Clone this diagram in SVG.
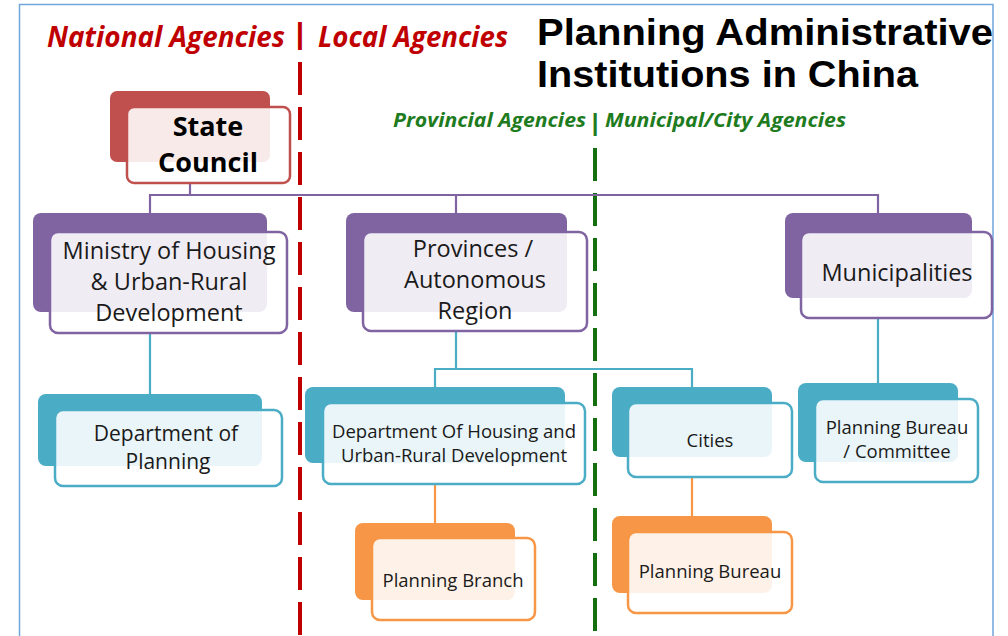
<svg xmlns="http://www.w3.org/2000/svg" width="1008" height="636" viewBox="0 0 1008 636">
  <style>
    .frame { fill: none; stroke: #6fa6dc; stroke-width: 1.5; }
    .title { font-family: "Liberation Sans", Arial, sans-serif; font-weight: 700; font-size: 36.5px; fill: #000; }
    .hdr-red { font-family: "Open Sans", "Noto Sans", sans-serif; font-weight: 700; font-style: italic; font-size: 29px; fill: #c00000; }
    .hdr-green { font-family: "Open Sans", "Noto Sans", sans-serif; font-weight: 700; font-style: italic; font-size: 20px; fill: #1e7b1e; }
    .bar { font-family: "Liberation Sans", Arial, sans-serif; font-style: normal; font-weight: 700; }
    .div-red { stroke: #c00000; stroke-width: 4; stroke-dasharray: 33 12; fill: none; }
    .div-green { stroke: #14700f; stroke-width: 4; stroke-dasharray: 33 12; fill: none; }
    .c-purple { stroke: #8064a2; stroke-width: 2.2; fill: none; }
    .c-blue { stroke: #4bacc6; stroke-width: 2.2; fill: none; }
    .c-orange { stroke: #f79646; stroke-width: 2.2; fill: none; }
    .front { fill: #ffffff; fill-opacity: 0.88; stroke-width: 2.5; }
    .red .back { fill: #c0504d; }
    .red .front { stroke: #c0504d; }
    .purple .back { fill: #8064a2; }
    .purple .front { stroke: #8064a2; }
    .blue .back { fill: #4bacc6; }
    .blue .front { stroke: #4bacc6; }
    .orange .back { fill: #f79646; }
    .orange .front { stroke: #f79646; }
    .t { font-family: "Open Sans", "Noto Sans", sans-serif; fill: #1a1a1a; text-anchor: middle; }
    .t-lg { font-size: 23.5px; }
    .t-md { font-size: 21px; }
    .t-sm { font-size: 18.5px; }
    .t-bold { font-weight: 700; font-size: 27px; fill: #000; }
  </style>

  <rect class="frame" x="19.5" y="4.5" width="973.5" height="700"/>

  <g id="titles">
    <text class="title" x="537" y="45" textLength="456" lengthAdjust="spacingAndGlyphs">Planning Administrative</text>
    <text class="title" x="537" y="86.5" textLength="381" lengthAdjust="spacingAndGlyphs">Institutions in China</text>
    <text class="hdr-red" x="47" y="47" textLength="238" lengthAdjust="spacingAndGlyphs">National Agencies</text>
    <text class="bar" x="300" y="44" font-size="30" fill="#c00000" text-anchor="middle">|</text>
    <text class="hdr-red" x="318" y="47" textLength="190" lengthAdjust="spacingAndGlyphs">Local Agencies</text>
    <text class="hdr-green" x="393" y="127" textLength="193" lengthAdjust="spacingAndGlyphs">Provincial Agencies</text>
    <text class="bar" x="595" y="131" font-size="24" fill="#1e7b1e" text-anchor="middle">|</text>
    <text class="hdr-green" x="605" y="127" textLength="241" lengthAdjust="spacingAndGlyphs">Municipal/City Agencies</text>
  </g>

  <g id="dividers">
    <line class="div-red" x1="300" y1="62" x2="300" y2="640"/>
    <line class="div-green" x1="595" y1="148" x2="595" y2="640"/>
  </g>

  <g id="connectors">
    <path class="c-purple" d="M190 183 V195 M150 213 V195 H878 V213 M456 195 V213"/>
    <path class="c-blue" d="M150 333 V394"/>
    <path class="c-blue" d="M456 331 V369 M435 387 V369 H692 V387"/>
    <path class="c-blue" d="M878 318 V383"/>
    <path class="c-orange" d="M435 484 V523"/>
    <path class="c-orange" d="M692 477 V516"/>
  </g>

  <g id="state-council" class="red">
    <rect class="back" x="110" y="91" width="160" height="71" rx="7"/>
    <rect class="front" x="127" y="107" width="163" height="76" rx="7"/>
    <text class="t t-bold" x="208" y="136">State</text>
    <text class="t t-bold" x="208" y="172">Council</text>
  </g>

  <g id="ministry" class="purple">
    <rect class="back" x="33" y="213" width="234" height="99" rx="8"/>
    <rect class="front" x="50" y="232" width="237" height="101" rx="8"/>
    <text class="t t-lg" x="169" y="259">Ministry of Housing</text>
    <text class="t t-lg" x="169" y="290">&amp; Urban-Rural</text>
    <text class="t t-lg" x="169" y="321">Development</text>
  </g>

  <g id="provinces" class="purple">
    <rect class="back" x="346" y="213" width="221" height="99" rx="8"/>
    <rect class="front" x="363" y="232" width="224" height="99" rx="8"/>
    <text class="t t-lg" x="473" y="257">Provinces /</text>
    <text class="t t-lg" x="475" y="288">Autonomous</text>
    <text class="t t-lg" x="475" y="319">Region</text>
  </g>

  <g id="municipalities" class="purple">
    <rect class="back" x="785" y="213" width="187" height="85" rx="8"/>
    <rect class="front" x="801" y="232" width="191" height="86" rx="8"/>
    <text class="t t-lg" x="897" y="281">Municipalities</text>
  </g>

  <g id="dept-planning" class="blue">
    <rect class="back" x="38" y="394" width="224" height="72" rx="8"/>
    <rect class="front" x="55" y="410" width="227" height="76" rx="8"/>
    <text class="t t-md" x="166" y="441">Department of</text>
    <text class="t t-md" x="168" y="469">Planning</text>
  </g>

  <g id="dept-housing" class="blue">
    <rect class="back" x="305" y="387" width="260" height="76" rx="8"/>
    <rect class="front" x="323" y="403" width="262" height="81" rx="8"/>
    <text class="t t-sm" x="454" y="438">Department Of Housing and</text>
    <text class="t t-sm" x="454" y="462">Urban-Rural Development</text>
  </g>

  <g id="cities" class="blue">
    <rect class="back" x="612" y="387" width="160" height="70" rx="8"/>
    <rect class="front" x="628" y="403" width="164" height="74" rx="8"/>
    <text class="t t-sm" x="710" y="447">Cities</text>
  </g>

  <g id="planning-bureau-committee" class="blue">
    <rect class="back" x="798" y="383" width="160" height="79" rx="8"/>
    <rect class="front" x="815" y="399" width="163" height="83" rx="8"/>
    <text class="t t-sm" x="897" y="434">Planning Bureau</text>
    <text class="t t-sm" x="897" y="458">/ Committee</text>
  </g>

  <g id="planning-branch" class="orange">
    <rect class="back" x="355" y="523" width="160" height="77" rx="8"/>
    <rect class="front" x="372" y="538" width="163" height="82" rx="8"/>
    <text class="t t-sm" x="453" y="587">Planning Branch</text>
  </g>

  <g id="planning-bureau" class="orange">
    <rect class="back" x="612" y="516" width="160" height="77" rx="8"/>
    <rect class="front" x="628" y="532" width="164" height="81" rx="8"/>
    <text class="t t-sm" x="710" y="578">Planning Bureau</text>
  </g>
</svg>
